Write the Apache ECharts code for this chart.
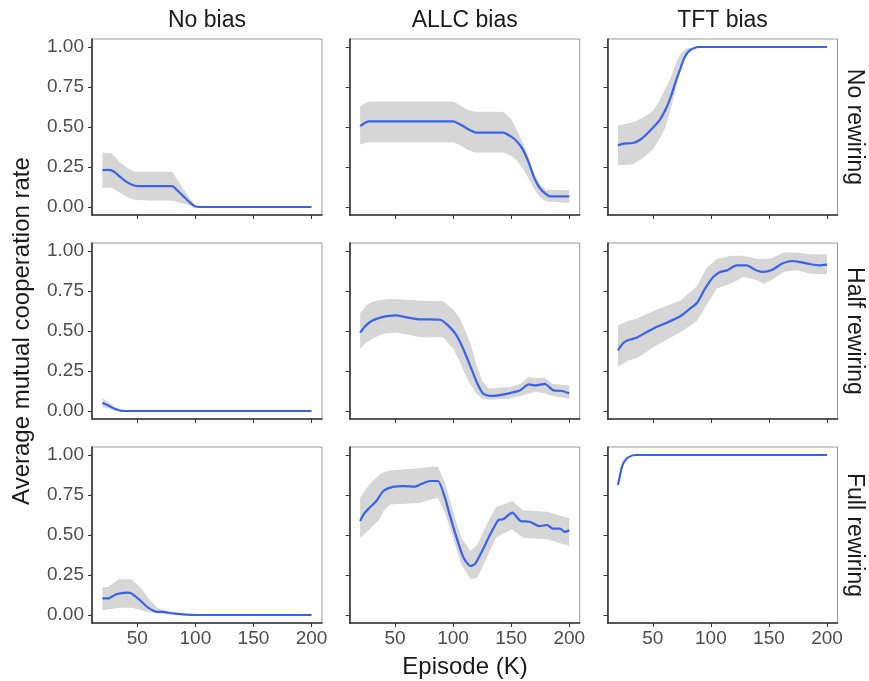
<!DOCTYPE html>
<html>
<head>
<meta charset="utf-8">
<script src="https://cdn.jsdelivr.net/npm/echarts@6/dist/echarts.min.js"></script>
<style>
  html, body { margin: 0; padding: 0; background: #fff; }
  #chart { width: 869px; height: 681px; }
</style>
</head>
<body>
<div id="chart"></div>
<script>
// ---- Facet labels and ticks ----
const colTitles = ['No bias', 'ALLC bias', 'TFT bias'];
const rowTitles = ['No rewiring', 'Half rewiring', 'Full rewiring'];
const xTicks = [50, 100, 150, 200];
const yTicks = [0, 0.25, 0.5, 0.75, 1];
const xTitle = 'Episode (K)';
const yTitle = 'Average mutual cooperation rate';

// ---- Data: mean lines [episode, rate] and bands [episode, lower, upper] ----
// Row 1: No rewiring
const noBias_noRew_mean = [[20,0.23],[25,0.232],[29,0.225],[35,0.19],[40,0.16],[45,0.14],[50,0.13],[60,0.13],[70,0.13],[80,0.13],[85,0.1],[90,0.065],[95,0.03],[100,0.003],[110,0],[150,0],[200,0]];
const noBias_noRew_band = [[20,0.12,0.34],[28,0.12,0.335],[35,0.09,0.28],[42,0.06,0.24],[48,0.045,0.22],[60,0.04,0.22],[70,0.04,0.22],[80,0.04,0.22],[90,0.02,0.11],[100,0,0.005],[200,0,0]];
const allc_noRew_mean = [[20,0.505],[25,0.53],[28,0.535],[50,0.535],[75,0.535],[100,0.535],[105,0.52],[110,0.5],[115,0.478],[120,0.465],[130,0.465],[143,0.465],[150,0.44],[155,0.41],[160,0.36],[165,0.28],[170,0.18],[175,0.115],[180,0.08],[183,0.067],[200,0.067]];
const allc_noRew_band = [[20,0.39,0.63],[27,0.405,0.66],[100,0.405,0.66],[105,0.39,0.64],[112,0.36,0.61],[119,0.34,0.595],[143,0.34,0.595],[150,0.32,0.55],[155,0.29,0.48],[160,0.24,0.4],[165,0.18,0.31],[170,0.11,0.21],[175,0.06,0.14],[180,0.035,0.108],[200,0.025,0.105]];
const tft_noRew_mean = [[20,0.385],[25,0.396],[33,0.4],[40,0.425],[48,0.48],[56,0.545],[62,0.625],[66,0.7],[70,0.79],[74,0.87],[77,0.93],[82,0.98],[89,1.0],[200,1.0]];
const tft_noRew_band = [[20,0.26,0.51],[33,0.267,0.53],[42,0.31,0.56],[50,0.36,0.6],[56,0.427,0.667],[61,0.5,0.74],[65,0.6,0.8],[70,0.74,0.9],[74,0.86,0.96],[79,0.96,0.99],[88,1,1],[200,1,1]];
// Row 2: Half rewiring
const noBias_halfRew_mean = [[20,0.05],[25,0.035],[30,0.015],[35,0.003],[40,0],[200,0]];
const noBias_halfRew_band = [[20,0.025,0.08],[25,0.015,0.055],[30,0.005,0.025],[35,0,0.005],[40,0,0],[200,0,0]];
const allc_halfRew_mean = [[20,0.49],[25,0.535],[31,0.567],[39,0.587],[45,0.595],[51,0.598],[59,0.587],[71,0.573],[79,0.573],[89,0.57],[94,0.546],[102,0.483],[108,0.4],[114,0.296],[121,0.17],[126,0.108],[132,0.094],[139,0.098],[149,0.112],[158,0.13],[165,0.167],[171,0.16],[179,0.17],[186,0.13],[194,0.125],[200,0.11]];
const allc_halfRew_band = [[20,0.39,0.61],[25,0.425,0.66],[31,0.455,0.685],[39,0.48,0.695],[45,0.487,0.7],[51,0.49,0.7],[59,0.48,0.695],[71,0.4625,0.69],[80,0.46,0.6875],[91,0.4625,0.6875],[100,0.39,0.635],[105,0.32,0.59],[110,0.235,0.51],[115,0.165,0.42],[120,0.11,0.29],[125,0.08,0.19],[131,0.07,0.14],[149,0.077,0.15],[158,0.095,0.17],[165,0.108,0.2125],[171,0.12,0.205],[179,0.11,0.21],[185,0.095,0.17],[200,0.077,0.16]];
const tft_halfRew_mean = [[20,0.379],[24,0.42],[28,0.44],[36,0.458],[45,0.494],[53,0.525],[62,0.552],[74,0.594],[82,0.64],[88,0.675],[95,0.765],[102,0.8375],[108,0.869],[114,0.879],[122,0.91],[131,0.91],[138,0.883],[145,0.869],[153,0.883],[161,0.92],[170,0.9375],[177,0.93],[186,0.917],[193,0.91],[200,0.915]];
const tft_halfRew_band = [[20,0.275,0.535],[28,0.3125,0.5625],[36,0.33,0.577],[53,0.41,0.633],[74,0.494,0.69],[88,0.5625,0.78],[96,0.66,0.89],[105,0.765,0.95],[117,0.796,0.97],[128,0.8375,0.97],[140,0.817,0.95],[145,0.796,0.95],[152,0.817,0.955],[163,0.87,0.99],[174,0.879,0.99],[186,0.858,0.98],[200,0.854,0.98]];
// Row 3: Full rewiring
const noBias_fullRew_mean = [[20,0.104],[25,0.104],[32,0.13],[41,0.14],[45,0.135],[52,0.094],[59,0.048],[67,0.02],[72,0.019],[81,0.01],[92,0.002],[100,0],[200,0]];
const noBias_fullRew_band = [[20,0.031,0.173],[25,0.035,0.177],[34,0.045,0.223],[45,0.045,0.223],[52,0.033,0.177],[61,0.015,0.094],[68,0.01,0.04],[75,0.005,0.025],[86,0,0.01],[100,0,0],[200,0,0]];
const allc_fullRew_mean = [[20,0.5875],[23,0.629],[28,0.67],[34,0.7125],[40,0.775],[49,0.802],[57,0.806],[67,0.802],[73,0.82],[80,0.8375],[87,0.8375],[93,0.733],[97,0.629],[103,0.483],[109,0.358],[115,0.306],[119,0.32],[125,0.4],[132,0.504],[139,0.594],[143,0.598],[151,0.64],[158,0.5875],[166,0.583],[174,0.556],[181,0.5625],[186,0.54],[192,0.54],[196,0.52],[200,0.529]];
const allc_fullRew_band = [[20,0.483,0.733],[28,0.535,0.817],[37,0.6,0.879],[40,0.65,0.89],[46,0.69,0.904],[71,0.70,0.917],[80,0.72,0.927],[87,0.733,0.927],[93,0.64,0.827],[100,0.483,0.65],[107,0.317,0.483],[115,0.223,0.4],[121,0.233,0.44],[129,0.358,0.567],[137,0.483,0.675],[143,0.51,0.69],[151,0.535,0.7125],[160,0.483,0.654],[181,0.473,0.646],[200,0.431,0.604]];
const tft_fullRew_mean = [[20,0.8125],[22,0.88],[23.5,0.927],[26,0.965],[30,0.99],[35,1.0],[200,1.0]];
const tft_fullRew_band = [[20,0.8,0.825],[23,0.92,0.935],[26,0.96,0.97],[30,0.99,0.99],[35,1,1],[200,1,1]];

const means = [
  [noBias_noRew_mean, allc_noRew_mean, tft_noRew_mean],
  [noBias_halfRew_mean, allc_halfRew_mean, tft_halfRew_mean],
  [noBias_fullRew_mean, allc_fullRew_mean, tft_fullRew_mean]
];
const bands = [
  [noBias_noRew_band, allc_noRew_band, tft_noRew_band],
  [noBias_halfRew_band, allc_halfRew_band, tft_halfRew_band],
  [noBias_fullRew_band, allc_fullRew_band, tft_fullRew_band]
];

// ---- Layout ----
const colLeft = [92, 349.7, 607.5];
const panelW = 230;
const rowTop = [39, 243, 447];
const panelH = 176;
const FONT = 'Liberation Sans, Arial, Helvetica, sans-serif';

const grids = [], xAxes = [], yAxes = [], series = [];
for (let r = 0; r < 3; r++) {
  for (let c = 0; c < 3; c++) {
    const idx = r * 3 + c;
    grids.push({
      left: colLeft[c], top: rowTop[r], width: panelW, height: panelH,
      show: true, borderColor: '#9a9a9a', borderWidth: 1, backgroundColor: '#fff'
    });
    xAxes.push({
      type: 'value', gridIndex: idx, min: 11, max: 209,
      axisLine: { show: true, onZero: false, lineStyle: { color: '#333', width: 1.6 } },
      axisTick: { show: true, customValues: xTicks, length: 4, lineStyle: { color: '#333' } },
      axisLabel: { show: r === 2, customValues: xTicks, color: '#4d4d4d', fontSize: 19, fontFamily: FONT, margin: 6 },
      splitLine: { show: false }
    });
    yAxes.push({
      type: 'value', gridIndex: idx, min: -0.05, max: 1.05,
      axisLine: { show: true, onZero: false, lineStyle: { color: '#333', width: 1.6 } },
      axisTick: { show: true, customValues: yTicks, length: 4, lineStyle: { color: '#333' } },
      axisLabel: { show: c === 0, customValues: yTicks, color: '#4d4d4d', fontSize: 19, fontFamily: FONT, margin: 8,
                   formatter: v => Number(v).toFixed(2) },
      splitLine: { show: false }
    });
    const band = bands[r][c];
    series.push({
      type: 'custom', xAxisIndex: idx, yAxisIndex: idx, data: band, z: 1, silent: true,
      encode: { x: 0, y: [1, 2] },
      renderItem: function (params, api) {
        if (params.dataIndex !== 0) return;
        const upper = band.map(d => api.coord([d[0], d[2]]));
        const lower = band.map(d => api.coord([d[0], d[1]])).reverse();
        return { type: 'polygon', shape: { points: upper.concat(lower) }, style: { fill: '#d6d6d6' } };
      }
    });
    series.push({
      type: 'line', xAxisIndex: idx, yAxisIndex: idx, data: means[r][c], z: 3,
      showSymbol: false, smooth: 0.2, silent: true,
      lineStyle: { color: '#3a62e8', width: 2.2 }
    });
  }
}

const graphics = [];
colTitles.forEach((t, c) => graphics.push({
  type: 'text', x: colLeft[c] + panelW / 2, y: 21,
  style: { text: t, font: '23px ' + FONT, fill: '#1a1a1a', textAlign: 'center', textVerticalAlign: 'middle' }
}));
rowTitles.forEach((t, r) => graphics.push({
  type: 'text', x: 854, y: rowTop[r] + panelH / 2, rotation: -Math.PI / 2,
  style: { text: t, font: '23px ' + FONT, fill: '#1a1a1a', textAlign: 'center', textVerticalAlign: 'middle' }
}));
graphics.push({
  type: 'text', x: 465, y: 667,
  style: { text: xTitle, font: '24px ' + FONT, fill: '#1a1a1a', textAlign: 'center', textVerticalAlign: 'middle' }
});
graphics.push({
  type: 'text', x: 22, y: 331, rotation: Math.PI / 2,
  style: { text: yTitle, font: '24px ' + FONT, fill: '#1a1a1a', textAlign: 'center', textVerticalAlign: 'middle' }
});

const chart = echarts.init(document.getElementById('chart'), null, { renderer: 'canvas' });
chart.setOption({
  animation: false,
  backgroundColor: '#fff',
  grid: grids, xAxis: xAxes, yAxis: yAxes, series: series, graphic: graphics
});
</script>
</body>
</html>
